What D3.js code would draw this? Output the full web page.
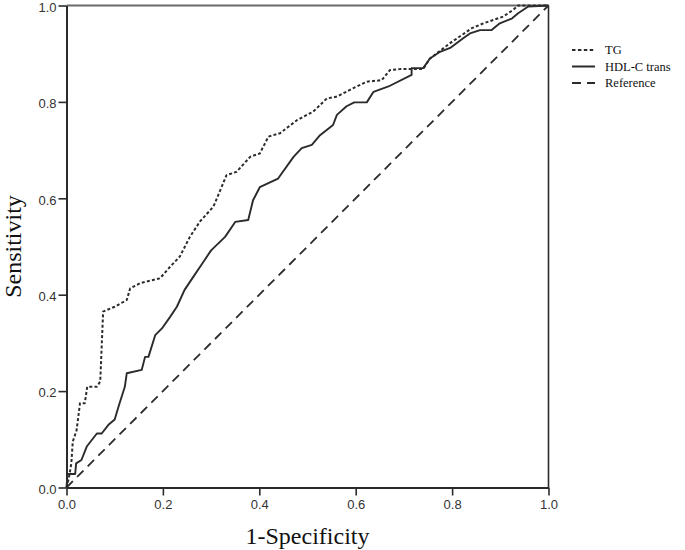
<!DOCTYPE html>
<html>
<head>
<meta charset="utf-8">
<script src="https://cdn.jsdelivr.net/npm/d3@7"></script>
<style>
  html, body { margin: 0; padding: 0; background: #fff; }
  svg { display: block; }
</style>
</head>
<body>
<div id="chart"></div>
<script>
// ---- data ----
const tickValues = [0.0, 0.2, 0.4, 0.6, 0.8, 1.0];
const seriesNames = ["TG", "HDL-C trans", "Reference"];

const tgFpr = [0, 0.005, 0.010, 0.013, 0.021, 0.028, 0.038, 0.043, 0.063, 0.070, 0.076, 0.100, 0.125, 0.132, 0.153, 0.194, 0.215, 0.235, 0.256, 0.277, 0.305, 0.322, 0.332, 0.353, 0.381, 0.401, 0.419, 0.443, 0.478, 0.512, 0.540, 0.561, 0.588, 0.623, 0.654, 0.671, 0.692, 0.740, 0.754, 0.796, 0.841, 0.865, 0.906, 0.927, 0.937, 1.0];
const tgTpr = [0, 0.020, 0.050, 0.095, 0.119, 0.175, 0.175, 0.209, 0.209, 0.220, 0.365, 0.375, 0.389, 0.413, 0.424, 0.434, 0.458, 0.479, 0.520, 0.552, 0.583, 0.624, 0.648, 0.655, 0.686, 0.693, 0.728, 0.735, 0.762, 0.780, 0.807, 0.811, 0.825, 0.842, 0.845, 0.866, 0.868, 0.868, 0.890, 0.922, 0.953, 0.963, 0.977, 0.991, 1.0, 1.0];

const hdlFpr = [0, 0.002, 0.018, 0.020, 0.031, 0.042, 0.063, 0.073, 0.087, 0.100, 0.108, 0.121, 0.125, 0.156, 0.163, 0.170, 0.184, 0.198, 0.215, 0.229, 0.245, 0.263, 0.280, 0.300, 0.329, 0.350, 0.377, 0.387, 0.401, 0.439, 0.471, 0.488, 0.509, 0.526, 0.553, 0.561, 0.581, 0.597, 0.623, 0.637, 0.668, 0.716, 0.716, 0.740, 0.754, 0.775, 0.796, 0.823, 0.837, 0.858, 0.882, 0.899, 0.924, 0.937, 0.958, 1.0];
const hdlTpr = [0, 0.028, 0.028, 0.050, 0.057, 0.085, 0.112, 0.112, 0.130, 0.141, 0.168, 0.209, 0.237, 0.244, 0.271, 0.271, 0.316, 0.330, 0.354, 0.375, 0.410, 0.437, 0.462, 0.492, 0.520, 0.551, 0.555, 0.596, 0.623, 0.641, 0.686, 0.704, 0.711, 0.731, 0.752, 0.773, 0.791, 0.799, 0.799, 0.821, 0.832, 0.856, 0.870, 0.870, 0.890, 0.904, 0.912, 0.932, 0.942, 0.949, 0.949, 0.963, 0.973, 0.984, 0.998, 1.0];

const refFpr = [0, 1];
const refTpr = [0, 1];

// ---- layout ----
const W = 685, H = 550;
const x0 = 66.5, x1 = 548.5, yTop = 5.5, yBot = 487.5;
const ink = "#2b2b2b";

const svg = d3.select("#chart").append("svg")
  .attr("width", W).attr("height", H);

const x = d3.scaleLinear().domain([0, 1]).range([x0, x1]);
const y = d3.scaleLinear().domain([0, 1]).range([yBot, yTop]);

// frame: top and right
svg.append("line").attr("x1", x0).attr("x2", x1).attr("y1", yTop).attr("y2", yTop)
  .attr("stroke", "#6a6a6a").attr("stroke-width", 2);
svg.append("line").attr("x1", x1).attr("x2", x1).attr("y1", yTop).attr("y2", yBot)
  .attr("stroke", ink).attr("stroke-width", 1.6);

// axes
const fmt = d3.format(".1f");
const gx = svg.append("g").attr("transform", `translate(0,${yBot})`)
  .call(d3.axisBottom(x).tickValues(tickValues).tickFormat(fmt).tickSize(8).tickSizeOuter(0).tickPadding(4));
const gy = svg.append("g").attr("transform", `translate(${x0},0)`)
  .call(d3.axisLeft(y).tickValues(tickValues).tickFormat(fmt).tickSize(8).tickSizeOuter(0).tickPadding(2));
[gx, gy].forEach(g => {
  g.select(".domain").attr("stroke", ink).attr("stroke-width", 2);
  g.selectAll(".tick line").attr("stroke", ink).attr("stroke-width", 1.6);
  g.selectAll(".tick text").attr("fill", "#333")
    .style("font-family", "'Liberation Sans', Arial, sans-serif").style("font-size", "13px");
});
gy.selectAll(".tick text").attr("dy", "0.45em");

// curves
const line = d3.line().x(d => x(d[0])).y(d => y(d[1]));
const series = [
  { name: seriesNames[0], pts: d3.zip(tgFpr, tgTpr), dash: "3,2.2", width: 2 },
  { name: seriesNames[1], pts: d3.zip(hdlFpr, hdlTpr), dash: null, width: 1.9 },
  { name: seriesNames[2], pts: d3.zip(refFpr, refTpr), dash: "9,6", width: 1.8 }
];
series.forEach(s => {
  svg.append("path").datum(s.pts)
    .attr("d", line)
    .attr("fill", "none")
    .attr("stroke", ink)
    .attr("stroke-width", s.width)
    .attr("stroke-linejoin", "round")
    .attr("stroke-dasharray", s.dash);
});

// legend
const leg = svg.append("g");
series.forEach((s, i) => {
  const ly = 50 + i * 16.5;
  leg.append("line").attr("x1", 572).attr("x2", 595).attr("y1", ly).attr("y2", ly)
    .attr("stroke", ink).attr("stroke-width", 2)
    .attr("stroke-dasharray", i === 0 ? "3.5,2.4" : (i === 2 ? "9,6" : null));
  leg.append("text").attr("x", 605).attr("y", ly).attr("dy", "0.35em")
    .attr("fill", "#111")
    .style("font-family", "'Liberation Serif', 'Times New Roman', serif").style("font-size", "12.5px")
    .text(s.name);
});

// axis titles
svg.append("text")
  .attr("x", (x0 + x1) / 2).attr("y", 544)
  .attr("text-anchor", "middle").attr("fill", "#111")
  .style("font-family", "'Liberation Serif', 'Times New Roman', serif").style("font-size", "24px")
  .text("1-Specificity");
svg.append("text")
  .attr("transform", `translate(21,${(yTop + yBot) / 2}) rotate(-90)`)
  .attr("text-anchor", "middle").attr("fill", "#111")
  .style("font-family", "'Liberation Serif', 'Times New Roman', serif").style("font-size", "24px")
  .text("Sensitivity");
</script>
</body>
</html>
